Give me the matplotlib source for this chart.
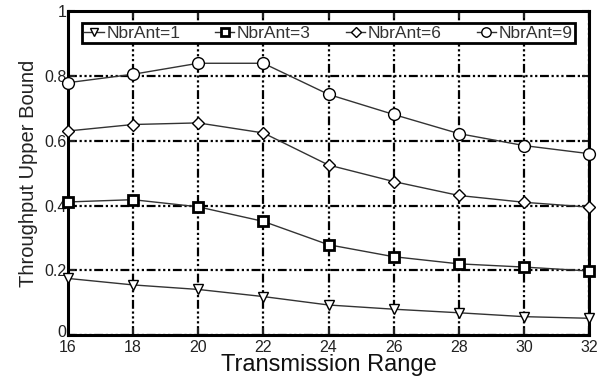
import matplotlib
matplotlib.use("Agg")
import matplotlib.pyplot as plt
import matplotlib.transforms as mtransforms

plt.rcParams['font.family'] = ['Liberation Sans', 'DejaVu Sans']

x = [16, 18, 20, 22, 24, 26, 28, 30, 32]
nbr1 = [0.175, 0.155, 0.141, 0.119, 0.093, 0.080, 0.069, 0.057, 0.052]
nbr3 = [0.411, 0.418, 0.396, 0.351, 0.279, 0.242, 0.220, 0.210, 0.198]
nbr6 = [0.630, 0.650, 0.655, 0.624, 0.525, 0.474, 0.431, 0.410, 0.395]
nbr9 = [0.779, 0.805, 0.839, 0.839, 0.743, 0.681, 0.622, 0.585, 0.560]
labels = ['NbrAnt=1', 'NbrAnt=3', 'NbrAnt=6', 'NbrAnt=9']
xticks = [16, 18, 20, 22, 24, 26, 28, 30, 32]
yticks = [0, 0.2, 0.4, 0.6, 0.8, 1]
yticklabels = ['0', '0.2', '0.4', '0.6', '0.8', '1']

fig = plt.figure(figsize=(6.0, 3.83), dpi=100)
ax = fig.add_axes([0.113, 0.125, 0.869, 0.846])

series = [nbr1, nbr3, nbr6, nbr9]
markers = ['v', 's', 'D', 'o']
msizes = [7.5, 6.5, 6.5, 8.5]
mews = [1.0, 2.0, 1.0, 1.0]
for ys, lab, m, ms, mew in zip(series, labels, markers, msizes, mews):
    ax.plot(x, ys, color='#333333', lw=1.0, marker=m, ms=ms,
            mfc='white', mec='black', mew=mew, label=lab, zorder=3, clip_on=False)

ax.set_xlim(16, 32)
ax.set_ylim(0, 1)
ax.set_xticks(xticks)
ax.set_xticklabels([str(v) for v in xticks])
ax.set_yticks(yticks)
ax.set_yticklabels(yticklabels)

ax.grid(True, color='black', lw=1.6, linestyle=(0, (4, 1.2, 1, 1.2, 1, 1.2, 1, 1.2)), zorder=1)
for s in ax.spines.values():
    s.set_linewidth(2.2)
ax.tick_params(direction='in', length=5, width=1.5, top=True, right=True,
               labelsize=11.5, colors='#222222')
ax.tick_params(axis='y', pad=1)
ax.tick_params(axis='x', pad=3.5)

# nudge the "0" y label up a little so it does not collide with "16"
lab0 = ax.get_yticklabels()[0]
lab0.set_transform(lab0.get_transform() + mtransforms.ScaledTranslation(0, 3 / 72, fig.dpi_scale_trans))

ax.set_xlabel('Transmission Range', fontsize=17, labelpad=-1, color='#111111')
ax.set_ylabel('Throughput Upper Bound', fontsize=14.5, labelpad=4, color='#222222')

leg = ax.legend(loc='lower left', bbox_to_anchor=(0.027, 0.901, 0.946, 0.08),
                mode='expand', ncol=4, fontsize=12.5, frameon=True, fancybox=False,
                handlelength=1.1, handletextpad=0.15, columnspacing=0.3,
                borderpad=0.15, borderaxespad=0, markerscale=0.8)
leg.get_frame().set_edgecolor('black')
leg.get_frame().set_linewidth(2.0)
leg.get_frame().set_alpha(1)
for t in leg.get_texts():
    t.set_color('#333333')

fig.savefig('out.png', dpi=100, facecolor='white')
